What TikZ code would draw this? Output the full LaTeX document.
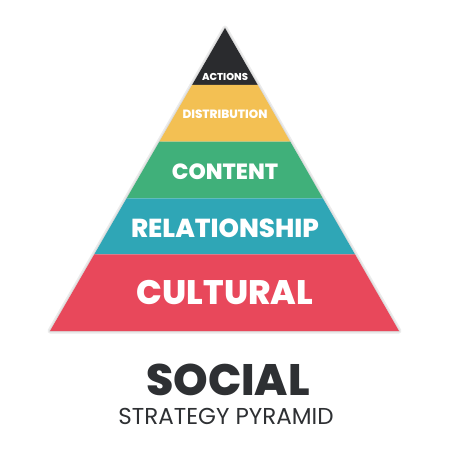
\documentclass[tikz,border=0pt]{standalone}
\usepackage{fontspec}
\setmainfont{Poppins}
\newfontfamily\heavyfont{Poppins ExtraBold}
\usetikzlibrary{calc}

\definecolor{actionsgray}{HTML}{2A2B2E}
\definecolor{distyellow}{HTML}{F3C053}
\definecolor{contentgreen}{HTML}{40B07A}
\definecolor{relteal}{HTML}{2FA6B6}
\definecolor{culturalred}{HTML}{E8485B}
\definecolor{titlegray}{HTML}{2E3033}

\tikzset{
  layerlabel/.style={text=white, inner sep=0pt},
  titletext/.style={text=titlegray, inner sep=0pt}
}

\begin{document}
\begin{tikzpicture}[x=1pt,y=-1pt]
\useasboundingbox (0,0) rectangle (450,450);
\fill[white] (0,0) rectangle (450,450);

\coordinate (apex) at (225,28);
\coordinate (bl) at (50,331);
\coordinate (br) at (399,331);

% soft shadow round the pyramid
\draw[black!8, line width=5pt, line join=round] (apex) -- (br) -- (bl) -- cycle;
\draw[black!14, line width=2pt, line join=round] (apex) -- (br) -- (bl) -- cycle;

% layers, top to bottom
\foreach \ta/\tb/\col in {0/0.1875/actionsgray, 0.1875/0.375/distyellow,
    0.375/0.5625/contentgreen, 0.5625/0.747/relteal, 0.747/1/culturalred}
  \fill[\col] ($(apex)!\ta!(bl)$) -- ($(apex)!\ta!(br)$)
    -- ($(apex)!\tb!(br)$) -- ($(apex)!\tb!(bl)$) -- cycle;

\node[layerlabel, font=\heavyfont\fontsize{10}{10}\selectfont] (actions) at (225,77) {ACTIONS};
\node[layerlabel, font=\heavyfont\fontsize{12}{12}\selectfont] (distribution) at (225,114) {DISTRIBUTION};
\node[layerlabel, font=\heavyfont\fontsize{22}{22}\selectfont] (content) at (225,172) {CONTENT};
\node[layerlabel, font=\heavyfont\fontsize{26}{26}\selectfont] (relationship) at (225,228) {RELATIONSHIP};
\node[layerlabel, font=\heavyfont\fontsize{34}{34}\selectfont] (cultural) at (225,293) {CULTURAL};

\node[titletext, font=\heavyfont\fontsize{44}{44}\selectfont] (social) at (228,380) {SOCIAL};
\node[titletext, font=\fontsize{23}{23}\selectfont] (subtitle) at (226,416) {STRATEGY PYRAMID};
\end{tikzpicture}
\end{document}
